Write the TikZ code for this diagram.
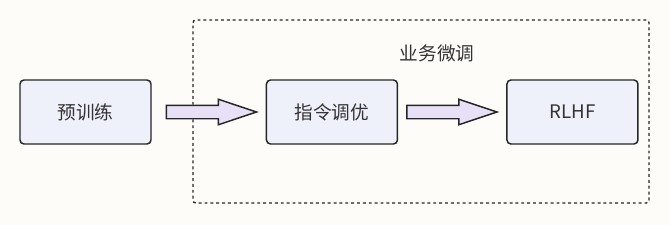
\documentclass[tikz,border=0pt]{standalone}
\usepackage{fontspec}
\setmainfont{Noto Sans CJK SC}
\usetikzlibrary{positioning,shapes.arrows}

\definecolor{fondo}{HTML}{FDFCF9}
\definecolor{relleno}{HTML}{EEF0FA}
\definecolor{flechafill}{HTML}{E8E0F6}
\definecolor{tinta}{HTML}{333333}

\begin{document}
\begin{tikzpicture}[
  x=0.75pt, y=-0.75pt,
  font=\fontsize{14}{16}\selectfont, text=tinta,
  caja/.style={draw=black!85, fill=relleno, line width=1.1pt, rounded corners=3pt, minimum width=98.25pt, minimum height=48pt, inner sep=0pt},
  gorda/.style={single arrow, draw=black!85, fill=flechafill, line width=1.1pt, minimum height=67.5pt, minimum width=18pt, single arrow head extend=4.5pt, single arrow tip angle=37, inner sep=0pt, inner ysep=4.5pt, text height=0pt, text depth=0pt, anchor=tail},
  marco/.style={draw=black!85, dashed, dash pattern=on 2.2pt off 2.2pt, line width=1pt, rounded corners=2pt, minimum width=342pt, minimum height=137.25pt},
  node distance=5mm and 85.5pt
]
\fill[fondo] (0,0) rectangle (670,225);

% Grupo: ajuste de negocio
\node[marco] (grupo) at (421,111.5) {};
\node (etiqueta) at (437,53) {业务微调};

% Etapas
\node[caja] (pre) at (85.5,112) {预训练};
\node[caja, right=of pre] (sft) {指令调优};
\node[caja, right=81pt of sft] (rlhf) {RLHF};

% Flechas gruesas
\node[gorda] (f1) at ([xshift=10.5pt]pre.east) {};
\node[gorda] (f2) at ([xshift=6pt]sft.east) {};
\end{tikzpicture}
\end{document}
